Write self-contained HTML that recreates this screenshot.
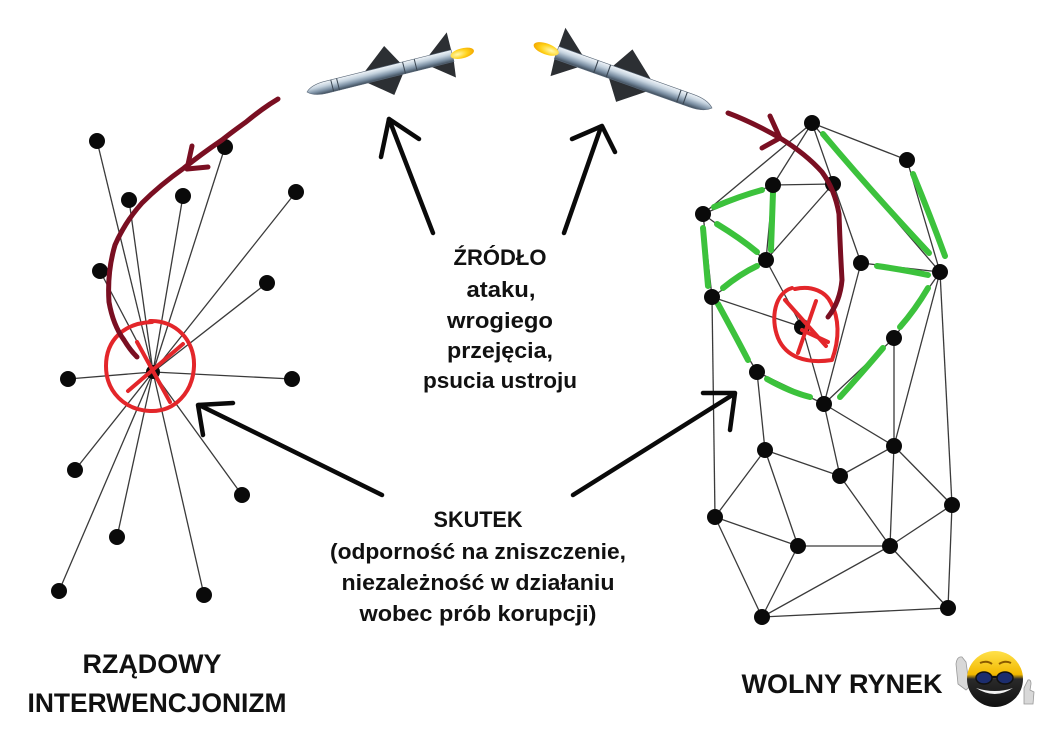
<!DOCTYPE html>
<html><head><meta charset="utf-8"><style>
html,body{margin:0;padding:0;background:#fff;}
svg{display:block;}
text{font-family:"Liberation Sans",sans-serif;font-weight:bold;fill:#111;}
</style></head><body>
<svg width="1060" height="750" viewBox="0 0 1060 750" xmlns="http://www.w3.org/2000/svg">
<defs>
<linearGradient id="mb" x1="0" y1="0" x2="0" y2="1">
<stop offset="0" stop-color="#f2f6fa"/><stop offset="0.35" stop-color="#c4d2de"/><stop offset="0.7" stop-color="#7b8fa3"/><stop offset="1" stop-color="#3e4c5a"/>
</linearGradient>
<radialGradient id="fl" cx="0.3" cy="0.5" r="0.7"><stop offset="0" stop-color="#fff8b0"/><stop offset="0.6" stop-color="#ffd21a"/><stop offset="1" stop-color="#f3a800"/></radialGradient>
<linearGradient id="sm" x1="0" y1="0" x2="0" y2="1"><stop offset="0" stop-color="#ffe14a"/><stop offset="0.42" stop-color="#f2b800"/><stop offset="0.5" stop-color="#2a2a2a"/><stop offset="1" stop-color="#111"/></linearGradient>
<g id="missile">
<polygon points="60,-5 86,-26 98,-5" fill="#2c2f33"/>
<polygon points="60,5 84,24 98,5" fill="#2c2f33"/>
<polygon points="126,-5 150,-24 150,-5" fill="#2c2f33"/>
<polygon points="126,5 148,22 150,5" fill="#2c2f33"/>
<path d="M0,0 Q6,-6 20,-6 L150,-6 L150,6 L20,6 Q6,6 0,0 Z" fill="url(#mb)" stroke="#5a6878" stroke-width="0.6"/>
<line x1="26" y1="-6" x2="26" y2="6" stroke="#3a4652" stroke-width="1"/>
<line x1="32" y1="-6" x2="32" y2="6" stroke="#3a4652" stroke-width="1"/>
<line x1="100" y1="-6" x2="100" y2="6" stroke="#3a4652" stroke-width="1"/>
<line x1="112" y1="-6" x2="112" y2="6" stroke="#3a4652" stroke-width="1"/>
<ellipse cx="160" cy="0" rx="12" ry="5" fill="url(#fl)"/>
</g>
</defs>

<g stroke="#3a3a3a" stroke-width="1.3" fill="none">
<line x1="153" y1="372" x2="97" y2="141"/>
<line x1="153" y1="372" x2="225" y2="147"/>
<line x1="153" y1="372" x2="129" y2="200"/>
<line x1="153" y1="372" x2="183" y2="196"/>
<line x1="153" y1="372" x2="296" y2="192"/>
<line x1="153" y1="372" x2="100" y2="271"/>
<line x1="153" y1="372" x2="267" y2="283"/>
<line x1="153" y1="372" x2="68" y2="379"/>
<line x1="153" y1="372" x2="292" y2="379"/>
<line x1="153" y1="372" x2="75" y2="470"/>
<line x1="153" y1="372" x2="242" y2="495"/>
<line x1="153" y1="372" x2="117" y2="537"/>
<line x1="153" y1="372" x2="59" y2="591"/>
<line x1="153" y1="372" x2="204" y2="595"/>
</g>
<g fill="#0a0a0a">
<circle cx="97" cy="141" r="8"/><circle cx="225" cy="147" r="8"/><circle cx="129" cy="200" r="8"/>
<circle cx="183" cy="196" r="8"/><circle cx="296" cy="192" r="8"/><circle cx="100" cy="271" r="8"/>
<circle cx="267" cy="283" r="8"/><circle cx="68" cy="379" r="8"/><circle cx="292" cy="379" r="8"/>
<circle cx="75" cy="470" r="8"/><circle cx="242" cy="495" r="8"/><circle cx="117" cy="537" r="8"/>
<circle cx="59" cy="591" r="8"/><circle cx="204" cy="595" r="8"/><circle cx="153" cy="372" r="7"/>
</g>

<g stroke="#3a3a3a" stroke-width="1.3" fill="none">
<line x1="812" y1="123" x2="907" y2="160"/>
<line x1="812" y1="123" x2="703" y2="214"/>
<line x1="812" y1="123" x2="773" y2="185"/>
<line x1="812" y1="123" x2="861" y2="263"/>
<line x1="812" y1="123" x2="940" y2="272"/>
<line x1="907" y1="160" x2="940" y2="272"/>
<line x1="773" y1="185" x2="833" y2="184"/>
<line x1="773" y1="185" x2="766" y2="260"/>
<line x1="773" y1="185" x2="703" y2="214"/>
<line x1="833" y1="184" x2="766" y2="260"/>
<line x1="703" y1="214" x2="766" y2="260"/>
<line x1="703" y1="214" x2="712" y2="297"/>
<line x1="766" y1="260" x2="712" y2="297"/>
<line x1="766" y1="260" x2="802" y2="327"/>
<line x1="861" y1="263" x2="940" y2="272"/>
<line x1="861" y1="263" x2="824" y2="404"/>
<line x1="940" y1="272" x2="894" y2="338"/>
<line x1="940" y1="272" x2="894" y2="446"/>
<line x1="940" y1="272" x2="952" y2="505"/>
<line x1="712" y1="297" x2="802" y2="327"/>
<line x1="712" y1="297" x2="757" y2="372"/>
<line x1="712" y1="297" x2="715" y2="517"/>
<line x1="802" y1="327" x2="824" y2="404"/>
<line x1="894" y1="338" x2="824" y2="404"/>
<line x1="894" y1="338" x2="894" y2="446"/>
<line x1="757" y1="372" x2="824" y2="404"/>
<line x1="757" y1="372" x2="765" y2="450"/>
<line x1="824" y1="404" x2="894" y2="446"/>
<line x1="824" y1="404" x2="840" y2="476"/>
<line x1="765" y1="450" x2="840" y2="476"/>
<line x1="765" y1="450" x2="715" y2="517"/>
<line x1="765" y1="450" x2="798" y2="546"/>
<line x1="894" y1="446" x2="840" y2="476"/>
<line x1="894" y1="446" x2="952" y2="505"/>
<line x1="894" y1="446" x2="890" y2="546"/>
<line x1="840" y1="476" x2="890" y2="546"/>
<line x1="952" y1="505" x2="890" y2="546"/>
<line x1="952" y1="505" x2="948" y2="608"/>
<line x1="715" y1="517" x2="798" y2="546"/>
<line x1="715" y1="517" x2="762" y2="617"/>
<line x1="798" y1="546" x2="890" y2="546"/>
<line x1="798" y1="546" x2="762" y2="617"/>
<line x1="890" y1="546" x2="762" y2="617"/>
<line x1="890" y1="546" x2="948" y2="608"/>
<line x1="762" y1="617" x2="948" y2="608"/>
</g>

<g stroke="#3cc23c" stroke-width="6" stroke-linecap="round" fill="none">
<path d="M823,134 Q870,190 929,253"/>
<path d="M913,174 Q930,215 945,256"/>
<path d="M714,207 Q740,196 762,190"/>
<path d="M773,192 L771,250"/>
<path d="M717,224 Q740,238 757,252"/>
<path d="M723,288 Q740,274 757,266"/>
<path d="M703,228 L708,286"/>
<path d="M877,266 Q905,270 928,275"/>
<path d="M928,288 Q915,310 900,327"/>
<path d="M883,348 Q860,375 840,397"/>
<path d="M718,304 Q735,335 748,360"/>
<path d="M767,379 Q790,392 810,397"/>
</g>

<g fill="#0a0a0a">
<circle cx="812" cy="123" r="8"/><circle cx="907" cy="160" r="8"/><circle cx="773" cy="185" r="8"/>
<circle cx="833" cy="184" r="8"/><circle cx="703" cy="214" r="8"/><circle cx="766" cy="260" r="8"/>
<circle cx="861" cy="263" r="8"/><circle cx="940" cy="272" r="8"/><circle cx="712" cy="297" r="8"/>
<circle cx="802" cy="327" r="8"/><circle cx="894" cy="338" r="8"/><circle cx="757" cy="372" r="8"/>
<circle cx="824" cy="404" r="8"/><circle cx="765" cy="450" r="8"/><circle cx="894" cy="446" r="8"/>
<circle cx="840" cy="476" r="8"/><circle cx="952" cy="505" r="8"/><circle cx="715" cy="517" r="8"/>
<circle cx="798" cy="546" r="8"/><circle cx="890" cy="546" r="8"/><circle cx="762" cy="617" r="8"/>
<circle cx="948" cy="608" r="8"/>
</g>

<g stroke="#e3262a" stroke-width="4" fill="none" stroke-linecap="round" stroke-linejoin="round">
<path d="M150,321 C175,320 195,340 194,366 C193,392 175,412 150,411 C125,410 106,392 106,366 C106,340 124,323 152,322"/>
<line x1="137" y1="342" x2="170" y2="402"/>
<line x1="183" y1="344" x2="128" y2="391"/>
<path d="M792,288 C775,293 770,318 778,338 C786,357 806,364 832,360 C840,338 839,318 831,303 C826,292 812,285 795,289"/>
<line x1="785" y1="300" x2="826" y2="346"/>
<line x1="816" y1="301" x2="798" y2="353"/>
<line x1="802" y1="330" x2="828" y2="342"/>
</g>

<g stroke="#7a0f22" stroke-width="5" fill="none" stroke-linecap="round" stroke-linejoin="round">
<path d="M278,99 L270,104 Q258,112 246,122 Q232,132 222,140 Q200,155 184,168 Q160,185 142,203 Q125,222 115,245 Q107,272 109,302 Q113,325 124,340 Q130,350 137,357"/>
<path d="M192,146 L187,169 L208,167"/>
<path d="M728,113 Q752,122 780,138 Q806,154 822,172 Q835,190 839,214 Q840,245 842,280 Q840,302 828,317"/>
<path d="M770,116 L780,138 L762,148"/>
</g>

<use href="#missile" transform="translate(307,92) rotate(-14)"/>
<use href="#missile" transform="translate(712,108) rotate(199.6) scale(1.1,-1.1)"/>

<g stroke="#0a0a0a" stroke-width="4.5" fill="none" stroke-linecap="round" stroke-linejoin="round">
<line x1="433" y1="233" x2="389" y2="119"/>
<path d="M381,157 L389,119 L419,139"/>
<line x1="564" y1="233" x2="601" y2="127"/>
<path d="M572,139 L602,126 L615,152"/>
<line x1="382" y1="495" x2="199" y2="405"/>
<path d="M233,403 L198,405 L203,435"/>
<line x1="573" y1="495" x2="734" y2="394"/>
<path d="M703,393 L735,393 L730,430"/>
</g>

<g text-anchor="middle" font-size="22">
<text x="500" y="265" textLength="93" lengthAdjust="spacingAndGlyphs">ŹRÓDŁO</text>
<text x="501" y="297" textLength="69" lengthAdjust="spacingAndGlyphs">ataku,</text>
<text x="500" y="328" textLength="106" lengthAdjust="spacingAndGlyphs">wrogiego</text>
<text x="500" y="358" textLength="106" lengthAdjust="spacingAndGlyphs">przejęcia,</text>
<text x="500" y="388" textLength="154" lengthAdjust="spacingAndGlyphs">psucia ustroju</text>
<text x="478" y="527" textLength="89" lengthAdjust="spacingAndGlyphs">SKUTEK</text>
<text x="478" y="559" textLength="296" lengthAdjust="spacingAndGlyphs">(odporność na zniszczenie,</text>
<text x="478" y="590" textLength="273" lengthAdjust="spacingAndGlyphs">niezależność w działaniu</text>
<text x="478" y="621" textLength="237" lengthAdjust="spacingAndGlyphs">wobec prób korupcji)</text>
</g>

<g text-anchor="middle" font-size="27">
<text x="152" y="673" textLength="139" lengthAdjust="spacingAndGlyphs">RZĄDOWY</text>
<text x="157" y="712" textLength="259" lengthAdjust="spacingAndGlyphs">INTERWENCJONIZM</text>
<text x="842" y="693" textLength="201" lengthAdjust="spacingAndGlyphs">WOLNY RYNEK</text>
</g>

<g>
<path d="M958,684 L956,664 Q957,656 962,657 L966,662 L968,676 Q972,686 966,690 Z" fill="#d8d8d8" stroke="#999" stroke-width="0.8"/>
<circle cx="995" cy="679" r="28" fill="url(#sm)"/>
<path d="M980,663 Q987,660 992,664" stroke="#8a5a00" stroke-width="2" fill="none"/>
<path d="M999,664 Q1005,660 1011,663" stroke="#8a5a00" stroke-width="2" fill="none"/>
<ellipse cx="984" cy="678" rx="8" ry="6" fill="#1c2d6e" stroke="#111" stroke-width="1.5"/>
<ellipse cx="1005" cy="678" rx="8" ry="6" fill="#1c2d6e" stroke="#111" stroke-width="1.5"/>
<line x1="992" y1="677" x2="997" y2="677" stroke="#111" stroke-width="2"/>
<path d="M976,688 Q995,700 1013,688 Q995,694 976,688 Z" fill="#f2f2f2"/>
<path d="M1024,704 L1024,688 L1028,680 Q1031,679 1031,684 L1030,690 L1034,692 L1033,704 Z" fill="#d8d8d8" stroke="#999" stroke-width="0.8"/>
</g>
</svg>
</body></html>
